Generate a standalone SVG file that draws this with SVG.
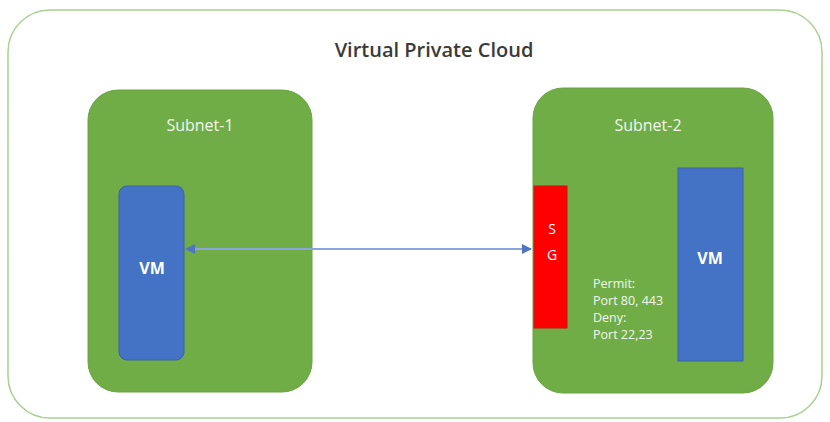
<svg xmlns="http://www.w3.org/2000/svg" width="830" height="422" viewBox="0 0 830 422">
<defs>
<style>
.lbl{font-family:"Open Sans","Liberation Sans",sans-serif;}
.sub{fill:#70ad47;stroke:#6aa443;stroke-width:1}
.vm{fill:#4472c4;stroke:#3a62a8;stroke-width:1}
.wt{fill:#f2f7ee;font-size:16px}
.vmt{font-size:16px;font-weight:bold;fill:#ffffff}
</style>
<marker id="ah" viewBox="0 0 10 10" refX="9" refY="5" markerWidth="5" markerHeight="5" orient="auto-start-reverse">
<path d="M0,0 L10,5 L0,10 z" fill="#4f74c2"/>
</marker>
</defs>
<rect width="830" height="422" fill="#ffffff"/>
<g id="vpc">
<rect x="8" y="10" width="814" height="408" rx="42" ry="42" fill="#ffffff" stroke="#a9d18e" stroke-width="1.5"/>
<text class="lbl" x="434" y="57" text-anchor="middle" font-size="20" font-weight="600" fill="#3a3a3a">Virtual Private Cloud</text>
</g>
<g id="subnet1">
<rect class="sub" x="88" y="90" width="224" height="302" rx="30" ry="30"/>
<text class="lbl wt" x="200" y="131" text-anchor="middle">Subnet-1</text>
</g>
<g id="vm1">
<rect class="vm" x="119" y="186" width="65" height="174" rx="8" ry="8"/>
<text class="lbl vmt" x="152" y="274" text-anchor="middle">VM</text>
</g>
<g id="subnet2">
<rect class="sub" x="533" y="88" width="240" height="305" rx="30" ry="30"/>
<text class="lbl wt" x="648" y="131" text-anchor="middle">Subnet-2</text>
</g>
<g id="sg">
<rect x="534" y="186" width="33" height="142" fill="#ff0000" stroke="#d01010" stroke-width="1"/>
<text class="lbl" x="552" y="234" text-anchor="middle" font-size="14" fill="#ffffff">S</text>
<text class="lbl" x="552" y="260" text-anchor="middle" font-size="14" fill="#ffffff">G</text>
</g>
<g id="vm2">
<rect class="vm" x="678" y="168" width="65" height="193"/>
<text class="lbl vmt" x="710" y="264" text-anchor="middle">VM</text>
</g>
<g id="rules">
<text class="lbl" font-size="12.5" fill="#f2f7ee">
<tspan x="593" y="288">Permit:</tspan>
<tspan x="593" y="305">Port 80, 443</tspan>
<tspan x="593" y="322">Deny:</tspan>
<tspan x="593" y="339">Port 22,23</tspan>
</text>
</g>
<g id="connectors">
<line x1="186" y1="249" x2="531" y2="249" stroke="#8aa5db" stroke-width="2" marker-start="url(#ah)" marker-end="url(#ah)"/>
</g>
</svg>
